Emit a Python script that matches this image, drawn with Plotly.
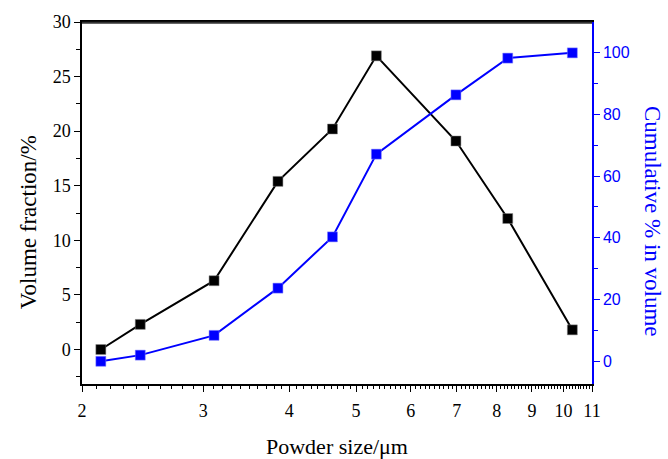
import plotly.graph_objects as go

# Data
powder_size = [2.13, 2.43, 3.11, 3.85, 4.62, 5.35, 6.98, 8.30, 10.30]
volume_fraction = [0.0, 2.3, 6.3, 15.4, 20.2, 26.9, 19.1, 12.0, 1.8]
cumulative = [0.0, 2.0, 8.4, 23.7, 40.3, 67.1, 86.3, 98.2, 99.9]

x_major = [2, 3, 4, 5, 6, 7, 8, 9, 10, 11]
x_minor = [round(i / 10, 1) for i in range(21, 110) if i % 10 != 0]

SERIF = "Liberation Serif"
SANS = "Liberation Sans"
BLUE = "#0000FF"

fig = go.Figure()
fig.add_trace(go.Scatter(
    x=powder_size, y=volume_fraction, mode="lines+markers",
    line=dict(color="black", width=2),
    marker=dict(symbol="square", size=10, color="black",
                line=dict(color="#888888", width=0.5)),
    name="Volume fraction", yaxis="y", showlegend=False, cliponaxis=False))
fig.add_trace(go.Scatter(
    x=powder_size, y=cumulative, mode="lines+markers",
    line=dict(color=BLUE, width=2),
    marker=dict(symbol="square", size=10, color=BLUE,
                line=dict(color="#8888ff", width=0.5)),
    name="Cumulative", yaxis="y2", showlegend=False, cliponaxis=False))

fig.update_layout(
    width=668, height=459,
    margin=dict(l=82, r=76, t=17, b=75),
    paper_bgcolor="white", plot_bgcolor="white",
    xaxis=dict(
        type="log", range=[0.30103, 1.041393],
        tickmode="array", tickvals=x_major, ticktext=[str(v) for v in x_major],
        ticks="outside", ticklen=6, tickwidth=1.2, tickcolor="black",
        minor=dict(tickmode="array", tickvals=x_minor, ticks="outside",
                   ticklen=3, tickwidth=1, tickcolor="black", showgrid=False),
        showline=True, linecolor="black", linewidth=1.5, mirror=True,
        showgrid=False, zeroline=False,
        tickfont=dict(family=SERIF, size=18, color="black"),
        ticklabelstandoff=4,
    ),
    yaxis=dict(
        range=[-3.16, 30.001], tickmode="array", tickvals=[0, 5, 10, 15, 20, 25, 30],
        ticks="outside", ticklen=6, tickwidth=1.2, tickcolor="black",
        minor=dict(tickmode="array", tickvals=[-2.5, 2.5, 7.5, 12.5, 17.5, 22.5, 27.5],
                   ticks="outside", ticklen=4, tickwidth=1, tickcolor="black",
                   showgrid=False),
        showline=True, linecolor="black", linewidth=1.5,
        showgrid=False, zeroline=False,
        tickfont=dict(family=SERIF, size=18, color="black"),
    ),
    yaxis2=dict(
        overlaying="y", side="right", anchor="x",
        range=[-7.35, 109.9], tickmode="array", tickvals=[0, 20, 40, 60, 80, 100],
        ticks="outside", ticklen=6, tickwidth=1.2, tickcolor=BLUE,
        minor=dict(tickmode="array", tickvals=[10, 30, 50, 70, 90],
                   ticks="outside", ticklen=4, tickwidth=1, tickcolor=BLUE,
                   showgrid=False),
        showline=True, linecolor=BLUE, linewidth=1.5,
        showgrid=False, zeroline=False,
        tickfont=dict(family=SANS, size=16, color=BLUE),
    ),
    shapes=[dict(type="line", xref="paper", yref="paper", x0=0, x1=1,
                 y0=0.998, y1=0.998, layer="above",
                 line=dict(color="#333333", width=2))],
    annotations=[
        dict(text="Volume fraction/%", xref="paper", yref="paper",
             x=-0.106, y=0.447, xanchor="center", yanchor="middle",
             textangle=-90, showarrow=False,
             font=dict(family=SERIF, size=23, color="black")),
        dict(text="Cumulative % in volume", xref="paper", yref="paper",
             x=1.12, y=0.45, xanchor="center", yanchor="middle",
             textangle=90, showarrow=False,
             font=dict(family=SERIF, size=23, color=BLUE)),
        dict(text="Powder size/μm", xref="paper", yref="paper",
             x=0.5, y=-0.172, xanchor="center", yanchor="middle",
             showarrow=False,
             font=dict(family=SERIF, size=22, color="black")),
    ],
)

fig.write_html("out.html", config={"displayModeBar": False},
               post_script="document.body.style.margin='0';document.body.style.overflow='hidden';")
